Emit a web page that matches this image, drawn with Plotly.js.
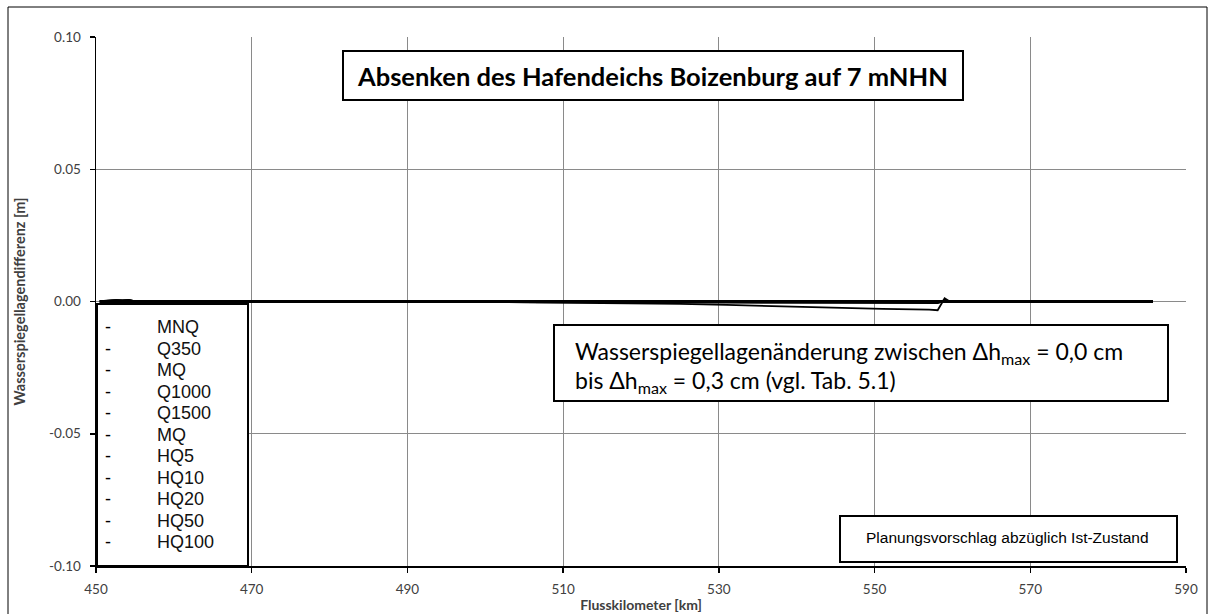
<!DOCTYPE html>
<html>
<head>
<meta charset="utf-8">
<script src="https://cdn.plot.ly/plotly-3.0.1.min.js"></script>
<style>
  html, body { margin: 0; padding: 0; background: #ffffff; }
  #chart { width: 1214px; height: 614px; }
</style>
</head>
<body>
<div id="chart"></div>
<script>
// Elbe river kilometre stations
const km = [450.5, 451.8, 452.6, 453.4, 454.2, 455, 460, 470, 480, 490, 495, 505, 515, 525,
            531, 538, 544, 551, 557, 558.1, 559, 559.6, 561, 565, 570, 580, 585.7];

// Water level difference [m], planning proposal minus current state
const seriesNames = ['MNQ', 'Q350', 'MQ', 'Q1000', 'Q1500', 'MQ', 'HQ5', 'HQ10', 'HQ20', 'HQ50', 'HQ100'];

const dhMNQ   = [0, 0, 0, 0, 0, 0, 0, 0, 0, 0, 0, 0, 0, 0, 0, 0, 0, 0, 0, 0, 0, 0, 0, 0, 0, 0, 0];
const dhQ350  = [0, 0, 0, 0, 0, 0, 0, 0, 0, 0, 0, 0, 0, 0, 0, 0, 0, 0, 0, 0, 0, 0, 0, 0, 0, 0, 0];
const dhMQ1   = [0, 0, 0, 0, 0, 0, 0, 0, 0, 0, 0, 0, 0, 0, 0, 0, 0, 0, 0, 0, 0, 0, 0, 0, 0, 0, 0];
const dhQ1000 = [0, 0, 0, 0, 0, 0, 0, 0, 0, 0, 0, 0, 0, 0, 0, 0, 0, 0, 0, 0, 0, 0, 0, 0, 0, 0, 0];
const dhQ1500 = [0, 0, 0, 0, 0, 0, 0, 0, 0, 0, 0, 0, 0, 0, 0, 0, 0, 0, 0, 0, 0, 0, 0, 0, 0, 0, 0];
const dhMQ2   = [0, 0, 0, 0, 0, 0, 0, 0, 0, 0, 0, 0, 0, 0, 0, 0, 0, 0, 0, 0, 0, 0, 0, 0, 0, 0, 0];
const dhHQ5   = [0, 0.0001, 0.0002, 0.0001, 0.0002, 0, 0, 0, 0, 0, 0, 0, 0, 0, 0, 0, 0, -0.0001, -0.0001, -0.0001, 0, 0, 0, 0, 0, 0, 0];
const dhHQ10  = [0, 0.0002, 0.0003, 0.0002, 0.0003, 0, 0, 0, 0, 0, 0, 0, 0, 0, 0, 0, -0.0001, -0.0001, -0.0002, -0.0002, 0.0001, 0, 0, 0, 0, 0, 0];
const dhHQ20  = [0, 0.0002, 0.0004, 0.0002, 0.0004, 0, 0, 0, 0, 0, 0, 0, 0, 0, -0.0001, -0.0001, -0.0002, -0.0002, -0.0003, -0.0003, 0.0002, 0, 0, 0, 0, 0, 0];
const dhHQ50  = [0, 0.0003, 0.0004, 0.0003, 0.0004, 0, 0, 0, 0, 0, 0, -0.0001, -0.0001, -0.0002, -0.0002, -0.0003, -0.0003, -0.0004, -0.0005, -0.0005, 0.0004, 0, 0, 0, 0, 0, 0];
const dhHQ100 = [0, 0.0003, 0.0005, 0.0003, 0.0005, 0, 0, 0, 0, 0, 0, -0.0003, -0.0005, -0.0009,
                 -0.0013, -0.0019, -0.0024, -0.0028, -0.0031, -0.0033, 0.0012, 0.0001, 0, 0, 0, 0, 0];

const seriesValues = [dhMNQ, dhQ350, dhMQ1, dhQ1000, dhQ1500, dhMQ2, dhHQ5, dhHQ10, dhHQ20, dhHQ50, dhHQ100];

// Axis ticks
const xTickVals = [450, 470, 490, 510, 530, 550, 570, 590];
const yTickVals = [-0.10, -0.05, 0.00, 0.05, 0.10];
const yTickText = ['-0.10', '-0.05', '0.00', '0.05', '0.10'];

const chartTitle = 'Absenken des Hafendeichs Boizenburg auf 7 mNHN';
const noteLines = ['Wasserspiegellagenänderung zwischen Δh<sub>max</sub> = 0,0 cm',
                   'bis Δh<sub>max</sub> = 0,3 cm (vgl. Tab. 5.1)'];
const caseText = 'Planungsvorschlag abzüglich Ist-Zustand';
const xTitle = 'Flusskilometer [km]';
const yTitle = 'Wasserspiegellagendifferenz [m]';

const traces = seriesNames.map((name, i) => ({
  type: 'scatter',
  mode: 'lines',
  name: name,
  x: km,
  y: seriesValues[i],
  line: { color: '#000000', width: i === seriesNames.length - 1 ? 1.8 : 2.5 },
  showlegend: false,
  hoverinfo: 'x+y+name'
}));

// Plot area in pixels: left 96, right 1186, top 37, bottom 566
const L = 96, R = 1186, T = 37, B = 566, W = 1214, H = 614;
const px = v => (v - L) / (R - L);
const py = v => (B - v) / (B - T);

const boxLine = { color: '#000000', width: 2 };
const shapes = [
  // outer frame
  { type: 'rect', xref: 'paper', yref: 'paper', x0: px(8), x1: px(1207), y0: py(640), y1: py(7),
    line: { color: '#000000', width: 1 }, fillcolor: 'rgba(0,0,0,0)', layer: 'above' },
  // title box
  { type: 'rect', xref: 'paper', yref: 'paper', x0: px(343), x1: px(963), y0: py(100), y1: py(51),
    line: boxLine, fillcolor: '#ffffff', layer: 'above' },
  // legend box
  { type: 'rect', xref: 'paper', yref: 'paper', x0: px(97), x1: px(248), y0: py(566), y1: py(304),
    line: boxLine, fillcolor: '#ffffff', layer: 'above' },
  // note box
  { type: 'rect', xref: 'paper', yref: 'paper', x0: px(554), x1: px(1168), y0: py(401), y1: py(325),
    line: boxLine, fillcolor: '#ffffff', layer: 'above' },
  // case box
  { type: 'rect', xref: 'paper', yref: 'paper', x0: px(840), x1: px(1177), y0: py(562), y1: py(516),
    line: boxLine, fillcolor: '#ffffff', layer: 'above' }
];

const calibriLike = 'Lato, "Open Sans", "DejaVu Sans", sans-serif';
const arialLike = '"Liberation Sans", Arial, sans-serif';

const annotations = [
  { xref: 'paper', yref: 'paper', x: px(652), y: py(76), xanchor: 'center', yanchor: 'middle',
    text: '<b>' + chartTitle + '</b>', showarrow: false,
    font: { family: calibriLike, size: 25.5, color: '#000000' } },
  { xref: 'paper', yref: 'paper', x: px(573), y: py(353), xanchor: 'left', yanchor: 'middle', align: 'left',
    text: noteLines[0], showarrow: false,
    font: { family: calibriLike, size: 23, color: '#000000' } },
  { xref: 'paper', yref: 'paper', x: px(573), y: py(381), xanchor: 'left', yanchor: 'middle', align: 'left',
    text: noteLines[1], showarrow: false,
    font: { family: calibriLike, size: 23, color: '#000000' } },
  { xref: 'paper', yref: 'paper', x: px(1007), y: py(537), xanchor: 'center', yanchor: 'middle',
    text: caseText, showarrow: false,
    font: { family: arialLike, size: 15.5, color: '#000000' } }
];

// legend entries drawn inside the legend box
seriesNames.forEach((name, i) => {
  const yy = py(327 + i * 21.5);
  annotations.push({ xref: 'paper', yref: 'paper', x: px(108), y: yy, xanchor: 'center', yanchor: 'middle',
    text: '-', showarrow: false, font: { family: arialLike, size: 18, color: '#000000' } });
  annotations.push({ xref: 'paper', yref: 'paper', x: px(155), y: yy, xanchor: 'left', yanchor: 'middle',
    text: name, showarrow: false, font: { family: arialLike, size: 18, color: '#111111' } });
});

const layout = {
  width: W, height: H,
  margin: { l: L, r: W - R, t: T, b: H - B, pad: 0 },
  paper_bgcolor: '#ffffff',
  plot_bgcolor: '#ffffff',
  showlegend: false,
  xaxis: {
    range: [450, 590],
    tickvals: xTickVals,
    showgrid: true, gridcolor: '#8a8a8a', gridwidth: 1,
    zeroline: false,
    showline: true, linecolor: '#000000', linewidth: 1.5,
    ticks: 'outside', ticklen: 5, tickcolor: '#000000', tickwidth: 1.5,
    ticklabelstandoff: 5,
    tickfont: { family: calibriLike, size: 13.5, color: '#404040' },
    title: { text: '<b>' + xTitle + '</b>', standoff: 4,
             font: { family: calibriLike, size: 14, color: '#404040' } }
  },
  yaxis: {
    range: [-0.1, 0.1],
    tickvals: yTickVals, ticktext: yTickText,
    showgrid: true, gridcolor: '#8a8a8a', gridwidth: 1,
    zeroline: false,
    showline: true, linecolor: '#000000', linewidth: 1.5,
    ticks: 'outside', ticklen: 5, tickcolor: '#000000', tickwidth: 1.5,
    ticklabelstandoff: 6,
    tickfont: { family: calibriLike, size: 13.5, color: '#404040' },
    title: { text: '<b>' + yTitle + '</b>', standoff: 20,
             font: { family: calibriLike, size: 14.5, color: '#404040' } }
  },
  shapes: shapes,
  annotations: annotations
};

Plotly.newPlot('chart', traces, layout, { displayModeBar: false, staticPlot: true });
</script>
</body>
</html>
